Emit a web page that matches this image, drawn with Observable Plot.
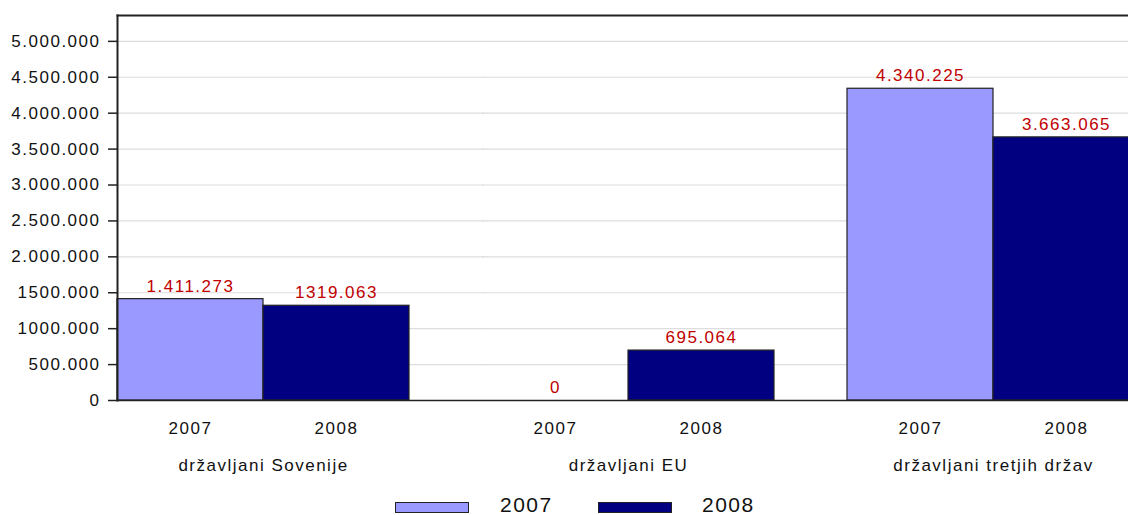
<!DOCTYPE html>
<html><head><meta charset="utf-8">
<script src="https://cdn.jsdelivr.net/npm/d3@7"></script>
<script src="https://cdn.jsdelivr.net/npm/@observablehq/plot@0.6"></script>
<style>
html,body{margin:0;padding:0;overflow:hidden;background:#fff;}
#chart svg{max-width:none !important;display:block;}
#legend{position:relative;height:27px;width:1128px;font-family:"Liberation Sans",Arial,sans-serif;}
.sw{position:absolute;top:14px;width:72px;height:9px;border:1.5px solid #222;}
.lt{position:absolute;top:5px;font-size:21px;letter-spacing:1.5px;color:#111;line-height:24px;}
</style></head><body>
<div id="chart"></div>
<div id="legend"></div>
<script>
const groups = ["državljani Sovenije", "državljani EU", "državljani tretjih držav"];
const years = ["2007", "2008"];
const values2007 = [1411273, 0, 4340225];
const values2008 = [1319063, 695064, 3663065];
const labels2007 = ["1.411.273", "0", "4.340.225"];
const labels2008 = ["1319.063", "695.064", "3.663.065"];
const yTicks = [0, 500000, 1000000, 1500000, 2000000, 2500000, 3000000, 3500000, 4000000, 4500000, 5000000];
const yTickLabels = ["0", "500.000", "1000.000", "1500.000", "2.000.000", "2.500.000", "3.000.000", "3.500.000", "4.000.000", "4.500.000", "5.000.000"];
const colors = ["#9999ff", "#000080"];
const yMax = 5360000;

const data = [];
groups.forEach((g, i) => {
  data.push({group: g, year: years[0], value: values2007[i], label: labels2007[i]});
  data.push({group: g, year: years[1], value: values2008[i], label: labels2008[i]});
});

const font = "Liberation Sans, Arial, sans-serif";
const plot = Plot.plot({
  width: 1139,
  height: 488,
  marginTop: 15,
  marginBottom: 88,
  marginLeft: 117,
  marginRight: 0,
  style: {fontFamily: font, fontSize: "17px", color: "#111", background: "#fff", overflow: "visible", letterSpacing: "1.5px", maxWidth: "none"},
  fx: {domain: groups, paddingInner: 0.2, paddingOuter: 0, label: null},
  x: {domain: years, padding: 0, label: null},
  y: {domain: [0, yMax], label: null},
  color: {domain: years, range: colors},
  marks: [
    Plot.ruleY(yTicks.slice(1), {stroke: "#dddddd", strokeWidth: 1.2, insetRight: -75}),
    Plot.barY(data, {fx: "group", x: "year", y: "value", fill: "year", stroke: "#222", strokeWidth: 1.2}),
    Plot.text(data, {fx: "group", x: "year", y: "value", text: "label", dy: -13, fill: "#c00000", fontSize: 17}),
    Plot.axisY({ticks: yTicks, tickFormat: d => yTickLabels[yTicks.indexOf(d)], tickSize: 9, tickPadding: 8, stroke: "#222", strokeWidth: 1.5, fontSize: 17, label: null}),
    Plot.axisX({tickSize: 0, tickPadding: 21, fontSize: 17, label: null}),
    Plot.axisFx({anchor: "bottom", tickSize: 0, tickPadding: 58, fontSize: 17, label: null}),
    Plot.frame({anchor: "bottom", facet: "super", stroke: "#222", strokeWidth: 1.5}),
    Plot.frame({anchor: "top", facet: "super", stroke: "#222", strokeWidth: 2}),
    Plot.frame({anchor: "left", facet: "super", stroke: "#222", strokeWidth: 2})
  ]
});
document.getElementById("chart").appendChild(plot);

const legend = document.getElementById("legend");
const swLeft = [395, 598];
const txLeft = [500, 702];
years.forEach((y, i) => {
  const s = document.createElement("div");
  s.className = "sw";
  s.style.left = swLeft[i] + "px";
  s.style.background = colors[i];
  legend.appendChild(s);
  const t = document.createElement("div");
  t.className = "lt";
  t.style.left = txLeft[i] + "px";
  t.textContent = y;
  legend.appendChild(t);
});
</script>
</body></html>
